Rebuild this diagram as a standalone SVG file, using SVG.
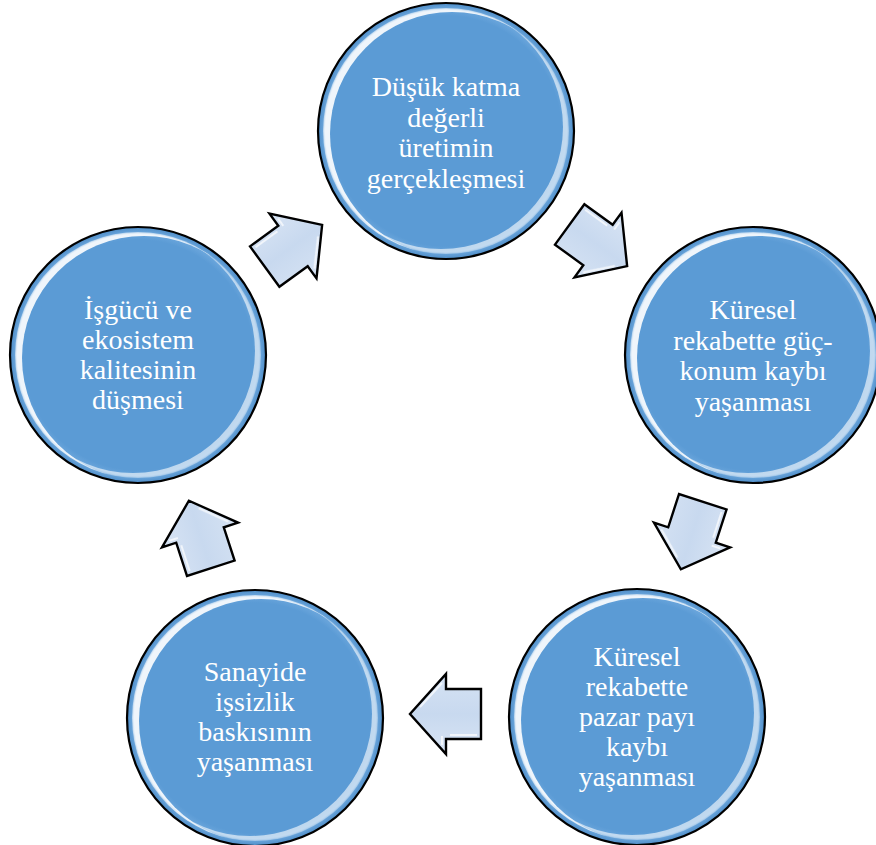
<svg xmlns="http://www.w3.org/2000/svg" width="876" height="845" viewBox="0 0 876 845">
<style>
.node{fill:url(#ballFill);stroke:#000;stroke-width:2.2}
.hl{fill:#fff;filter:url(#soft)}
.lbl{font-family:"Liberation Serif","Times New Roman",serif;font-size:28px;fill:#fff;text-anchor:middle}
.arr{fill:url(#arrFill);stroke:#000;stroke-width:2.4;stroke-linejoin:miter}
.arrhl{fill:none;stroke:#fff;stroke-width:2;opacity:0.7;filter:url(#soft2)}
</style>
<defs>
<radialGradient id="ballFill" cx="0" cy="0" r="128" gradientUnits="userSpaceOnUse">
<stop offset="0" stop-color="#5b9bd5"/>
<stop offset="0.9" stop-color="#5b9bd5"/>
<stop offset="0.955" stop-color="#6ba6dc"/>
<stop offset="1" stop-color="#4d8cc7"/>
</radialGradient>
<linearGradient id="arrFill" x1="0" y1="-40" x2="0" y2="40" gradientUnits="userSpaceOnUse">
<stop offset="0" stop-color="#d8e4f4"/>
<stop offset="0.5" stop-color="#c8d9ef"/>
<stop offset="1" stop-color="#d5e2f3"/>
</linearGradient>
<filter id="soft" x="-20%" y="-20%" width="140%" height="140%"><feGaussianBlur stdDeviation="1.2"/></filter>
<filter id="soft2" x="-20%" y="-20%" width="140%" height="140%"><feGaussianBlur stdDeviation="0.6"/></filter>
<mask id="mUL" maskUnits="userSpaceOnUse" x="-140" y="-140" width="280" height="280">
<circle r="123" fill="#fff"/>
<circle cx="6" cy="3" r="122" fill="#000"/>
</mask>
<mask id="mLR" maskUnits="userSpaceOnUse" x="-140" y="-140" width="280" height="280">
<circle r="123" fill="#fff"/>
<circle cx="-5" cy="-4" r="122" fill="#000"/>
</mask>
<path id="arrowShape" d="M -35 -25 L 0 -25 L 0 -40 L 36 0 L 0 40 L 0 25 L -35 25 Z"/>
</defs>
<rect width="876" height="845" fill="#fff"/>

<g id="connectors">
<g transform="translate(446,714) rotate(180)">
<use href="#arrowShape" class="arr"/>
<path class="arrhl" d="M 4 -31 L 4 -22 M -31 -21 L -4 -21 M 4 31 L 26 7"/>
</g>
<g transform="translate(200,535) rotate(252)">
<use href="#arrowShape" class="arr"/>
<path class="arrhl" d="M 4 -31 L 4 -22 M -31 -21 L -4 -21 M 4 31 L 26 7"/>
</g>
<g transform="translate(293,246) rotate(324)">
<use href="#arrowShape" class="arr"/>
<path class="arrhl" d="M 4 -31 L 4 -22 M -31 -21 L -4 -21 M 4 31 L 26 7"/>
</g>
<g transform="translate(598,245) rotate(36)">
<use href="#arrowShape" class="arr"/>
<path class="arrhl" d="M 4 -31 L 4 -22 M -31 -21 L -4 -21 M 4 31 L 26 7"/>
</g>
<g transform="translate(692,535) rotate(108)">
<use href="#arrowShape" class="arr"/>
<path class="arrhl" d="M 4 -31 L 4 -22 M -31 -21 L -4 -21 M 4 31 L 26 7"/>
</g>
</g>

<g id="node-top" transform="translate(446,131)">
<circle r="128" class="node"/>
<circle r="123" class="hl" mask="url(#mUL)" opacity="0.9"/>
<circle r="123" class="hl" mask="url(#mLR)" opacity="0.6"/>
<text class="lbl"><tspan x="0" y="-35">Düşük katma</tspan><tspan x="0" y="-4.5">değerli</tspan><tspan x="0" y="26">üretimin</tspan><tspan x="0" y="56.5">gerçekleşmesi</tspan></text>
</g>

<g id="node-right" transform="translate(753,355)">
<circle r="128" class="node"/>
<circle r="123" class="hl" mask="url(#mUL)" opacity="0.9"/>
<circle r="123" class="hl" mask="url(#mLR)" opacity="0.6"/>
<text class="lbl"><tspan x="0" y="-36">Küresel</tspan><tspan x="0" y="-5.5">rekabette güç-</tspan><tspan x="0" y="25">konum kaybı</tspan><tspan x="0" y="55.5">yaşanması</tspan></text>
</g>

<g id="node-bottom-right" transform="translate(637,717)">
<circle r="128" class="node"/>
<circle r="123" class="hl" mask="url(#mUL)" opacity="0.9"/>
<circle r="123" class="hl" mask="url(#mLR)" opacity="0.6"/>
<text class="lbl"><tspan x="0" y="-51">Küresel</tspan><tspan x="0" y="-21">rekabette</tspan><tspan x="0" y="9">pazar payı</tspan><tspan x="0" y="39">kaybı</tspan><tspan x="0" y="69">yaşanması</tspan></text>
</g>

<g id="node-bottom-left" transform="translate(255,718)">
<circle r="128" class="node"/>
<circle r="123" class="hl" mask="url(#mUL)" opacity="0.9"/>
<circle r="123" class="hl" mask="url(#mLR)" opacity="0.6"/>
<text class="lbl"><tspan x="0" y="-37">Sanayide</tspan><tspan x="0" y="-7.5">işsizlik</tspan><tspan x="0" y="22.5">baskısının</tspan><tspan x="0" y="52.5">yaşanması</tspan></text>
</g>

<g id="node-left" transform="translate(138,355)">
<circle r="128" class="node"/>
<circle r="123" class="hl" mask="url(#mUL)" opacity="0.9"/>
<circle r="123" class="hl" mask="url(#mLR)" opacity="0.6"/>
<text class="lbl"><tspan x="0" y="-36">İşgücü ve</tspan><tspan x="0" y="-6">ekosistem</tspan><tspan x="0" y="24">kalitesinin</tspan><tspan x="0" y="54">düşmesi</tspan></text>
</g>
</svg>
